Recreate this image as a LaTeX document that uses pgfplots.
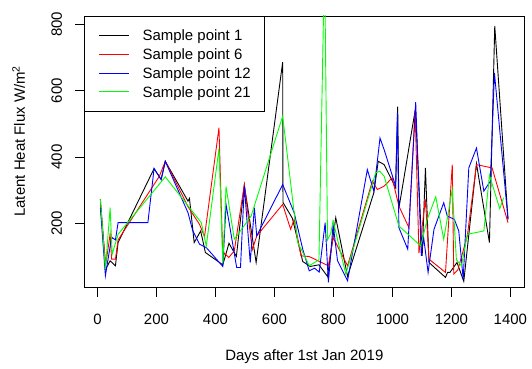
\documentclass[border=0pt]{standalone}
\usepackage{fontspec}
\setmainfont{Liberation Sans}
\usepackage{pgfplots}
\pgfplotsset{compat=1.18}
\definecolor{rblack}{RGB}{0,0,0}
\definecolor{rred}{RGB}{255,0,0}
\definecolor{rblue}{RGB}{0,0,255}
\definecolor{rgreen}{RGB}{0,255,0}
\begin{document}
\fontsize{15bp}{18bp}\selectfont
\begin{tikzpicture}
\begin{axis}[
  scale only axis, width=441bp, height=272.5bp,
  xmin=-44, xmax=1447, ymin=6, ymax=825,
  axis line style={line width=0.8bp},
  xtick={0,200,...,1400}, ytick={200,400,600,800},
  tick pos=left, tick align=outside, major tick length=9bp,
  tick style={black, line width=0.8bp},
  /pgf/number format/assume math mode=true,
  /pgf/number format/1000 sep={},
  ticklabel style={font=\fontsize{15bp}{18bp}\selectfont},
  xticklabel style={anchor=base, yshift=-28bp},
  yticklabel style={rotate=90, anchor=base, yshift=13.7bp},
  xlabel={Days after 1st Jan 2019},
  ylabel={Latent Heat Flux W/m\textsuperscript{2}},
  xlabel style={at={(axis description cs:0.5,0)}, anchor=base, yshift=-73bp, font=\fontsize{15bp}{18bp}\selectfont},
  ylabel style={at={(axis description cs:0,0.539)}, anchor=base, yshift=59.7bp, font=\fontsize{15bp}{18bp}\selectfont},
  legend cell align=left,
  legend image code/.code={\draw[line width=1bp, #1] (0bp,0bp) -- (30bp,0bp);},
  legend style={at={(axis description cs:0,1)}, anchor=north west,
    line width=0.8bp, fill=white,
    font=\fontsize{15bp}{18bp}\selectfont,
    inner xsep=13.5bp, inner ysep=13.8bp, row sep=8.2bp, column sep=13.4bp,
    nodes={inner sep=0pt, text height=10.7bp, text depth=0bp}},
  every axis plot/.append style={line width=0.9bp},
]
\addplot[color=rblack, forget plot] coordinates {
(10,272)(28,62)(43,87)(61,72)(70,142)(192,365)(216,332)(230,387)(307,267)(312,275)
(328,142)(350,177)(366,112)(425,75)(446,140)(471,100)(498,315)(538,82)(628,686)(629,263)
(661,215)(696,85)(721,70)(751,75)(780,40)(808,217)(848,40)(937,292)(952,387)(972,377)
(1011,307)(1018,552)(1022,245)(1078,545)(1101,102)(1112,367)(1124,82)(1180,37)(1187,52)(1195,52)
(1219,82)(1242,25)(1285,380)(1329,142)(1347,795)(1392,212)};
\addplot[color=rred, forget plot] coordinates {
(10,255)(28,75)(43,167)(48,92)(61,92)(70,150)(210,342)(230,387)(307,250)(346,197)
(363,160)(412,488)(425,97)(431,110)(445,97)(464,117)(498,317)(525,120)(540,162)(628,257)
(655,182)(667,212)(690,102)(718,100)(741,90)(783,72)(799,157)(848,72)(932,327)(949,302)
(972,312)(999,337)(1022,252)(1056,187)(1077,540)(1090,110)(1112,272)(1124,92)(1180,52)(1203,377)
(1208,47)(1222,60)(1254,162)(1285,377)(1338,367)(1392,202)};
\addplot[color=rblue, forget plot] coordinates {
(10,247)(27,42)(46,147)(50,157)(61,150)(70,202)(171,202)(192,365)(216,332)(230,387)
(307,232)(323,178)(346,137)(369,127)(425,70)(436,257)(472,67)(485,67)(498,312)(518,82)
(532,247)(540,162)(628,317)(667,232)(696,122)(718,57)(736,65)(752,53)(772,202)(783,22)
(799,197)(814,87)(848,27)(915,362)(937,297)(958,457)(972,422)(1011,312)(1017,532)(1022,187)
(1052,122)(1079,565)(1098,102)(1106,157)(1121,52)(1141,182)(1174,262)(1186,222)(1210,212)(1225,177)
(1240,32)(1259,367)(1285,427)(1310,297)(1332,327)(1346,653)(1392,212)};
\addplot[color=rgreen, forget plot] coordinates {
(10,272)(27,62)(43,247)(50,107)(70,167)(230,340)(352,202)(369,132)(412,425)(425,80)
(436,311)(464,152)(521,222)(628,523)(679,142)(702,102)(718,72)(751,90)(770,1000)(780,150)
(791,170)(799,207)(842,47)(943,352)(957,357)(972,342)(1022,192)(1096,132)(1118,212)(1147,280)
(1174,152)(1203,302)(1217,90)(1234,72)(1254,167)(1310,177)(1329,345)(1364,244)(1377,277)};
\addlegendimage{draw=rblack, color=rblack}
\addlegendimage{draw=rred, color=rred}
\addlegendimage{draw=rblue, color=rblue}
\addlegendimage{draw=rgreen, color=rgreen}
\legend{Sample point 1,Sample point 6,Sample point 12,Sample point 21}
\end{axis}
\path[use as bounding box] (-84.7bp,-74.5bp) rectangle (447.3bp,288.5bp);
\end{tikzpicture}
\end{document}
